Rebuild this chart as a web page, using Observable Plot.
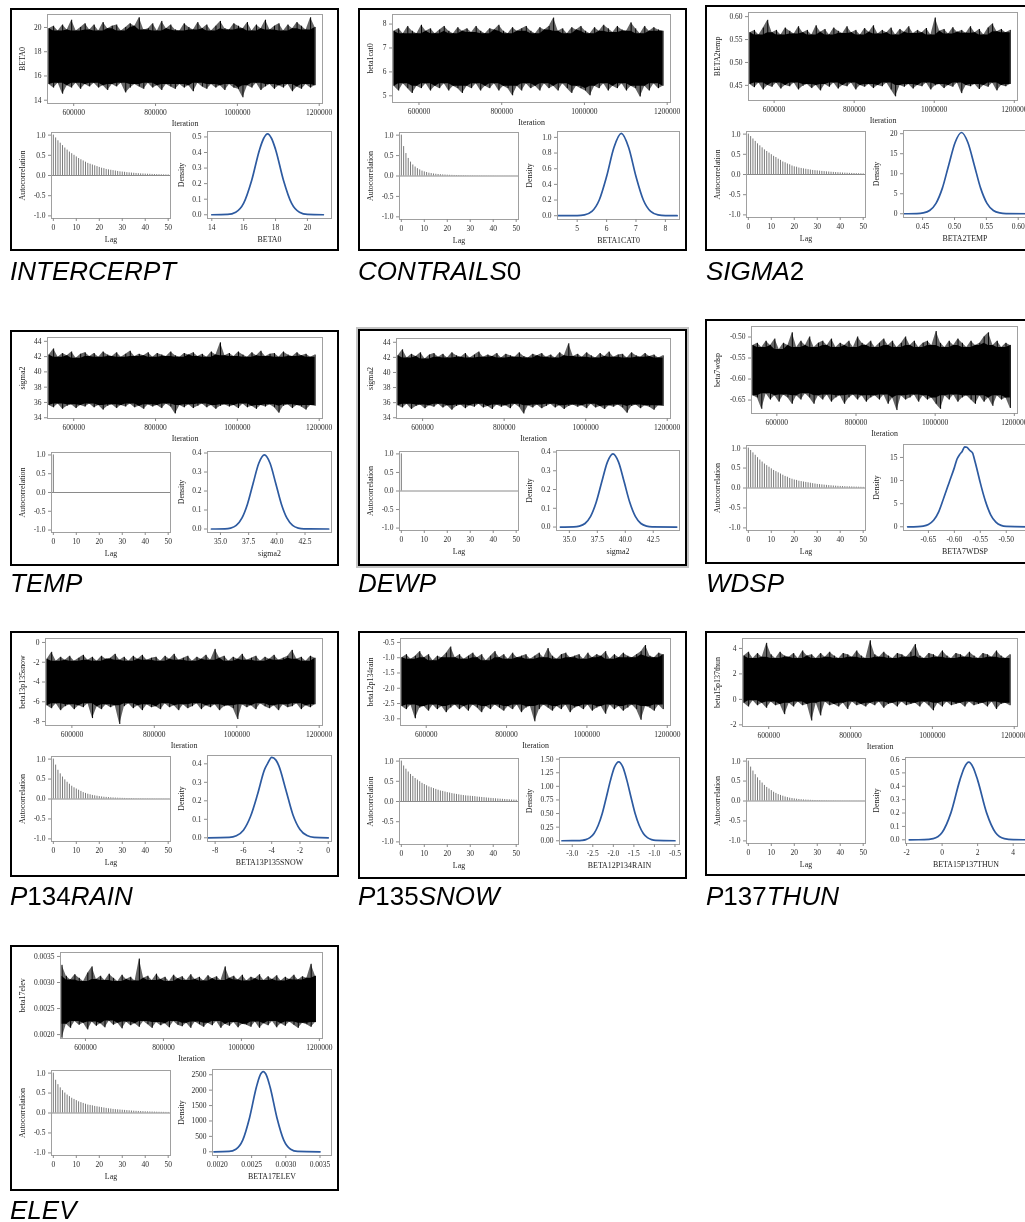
<!DOCTYPE html>
<html><head><meta charset="utf-8">
<script src="https://cdn.jsdelivr.net/npm/d3@7"></script>
<script src="https://cdn.jsdelivr.net/npm/@observablehq/plot@0.6"></script>
<style>
html,body{margin:0;padding:0;background:#fff;width:1025px;height:1222px;overflow:hidden;}
#root{position:relative;width:1025px;height:1222px;overflow:hidden;}
.panel{position:absolute;box-sizing:border-box;border:2px solid #000;background:#fff;}
.sub{position:absolute;will-change:transform;}
.sub svg{max-width:none;overflow:visible;display:block;}
#captions{position:absolute;left:0;top:0;will-change:transform;}
</style></head><body><div id="root"></div>
<script>
// ---------------- shared tick labels ----------------
const iterationTicks = [600000, 800000, 1000000, 1200000];
const lagTicks = [0, 10, 20, 30, 40, 50];
const acfTicks = [-1, -0.5, 0, 0.5, 1];
const captions = ["INTERCERPT", "CONTRAILS0", "SIGMA2", "TEMP", "DEWP", "WDSP", "P134RAIN", "P135SNOW", "P137THUN", "ELEV"];
const traceNames = ["BETA0", "beta1cat0", "BETA2temp", "sigma2", "sigma2", "beta7wdsp", "beta13p135snow", "beta12p134rain", "beta15p137thun", "beta17elev"];
const densityNames = ["BETA0", "BETA1CAT0", "BETA2TEMP", "sigma2", "sigma2", "BETA7WDSP", "BETA13P135SNOW", "BETA12P134RAIN", "BETA15P137THUN", "BETA17ELEV"];
const iterFirst = 540000, iterLast = 1190000;

// ---------------- BETA0 ----------------
const beta0TraceTop = [19.9,20.1,19.7,20.2,19.8,20.6,19.7,20.0,20.3,19.8, 20.2,19.7,20.4,19.9,20.1,20.2,19.7,20.0,20.3,20.1, 20.8,19.8,19.9,20.3,19.7,20.5,19.9,20.2,19.8,19.7, 20.3,20.0,19.8,20.4,19.9,20.2,19.7,20.1,20.5,19.9, 19.8,20.3,20.1,19.9,20.4,19.7,20.2,19.9,20.6,19.8, 20.1,20.3,19.7,20.2,19.9,20.4,20.1,19.8,20.8,20.0];
const beta0TraceBottom = [15.3,15.0,15.4,14.5,15.2,15.0,15.4,14.9,15.3,15.1, 15.4,15.0,15.2,14.8,15.3,15.1,15.4,14.6,15.0,15.3, 15.1,14.9,15.4,15.0,15.2,14.8,15.3,15.1,14.9,15.3, 15.0,15.2,14.7,15.4,15.1,14.9,15.3,15.0,15.2,14.8, 15.3,15.0,14.9,14.2,15.2,15.0,15.4,14.8,15.1,15.3, 14.9,15.2,15.0,15.3,14.7,15.1,14.9,15.3,15.0,15.2];
const beta0Acf = [1.00,0.93,0.86,0.80,0.74,0.68,0.63,0.58,0.54,0.50,0.46,0.42,0.39,0.36,0.33,0.30,0.28,0.26,0.24,0.22,0.20,0.18,0.17,0.15,0.14,0.13,0.12,0.11,0.10,0.09,0.085,0.08,0.07,0.065,0.06,0.055,0.05,0.045,0.04,0.038,0.035,0.032,0.03,0.027,0.025,0.022,0.02,0.018,0.016,0.015,0.014];
const beta0DensityX = [14,15,15.5,16,16.5,17,17.25,17.5,17.75,18,18.5,19,19.5,20,21];
const beta0DensityY = [0,0.002,0.016,0.074,0.22,0.42,0.49,0.52,0.49,0.42,0.22,0.074,0.016,0.002,0];
const beta0TraceTicks = [14,16,18,20];
const beta0DensXTicks = [14,16,18,20];
const beta0DensYTicks = [0,0.1,0.2,0.3,0.4,0.5];

// ---------------- beta1cat0 ----------------
const cat0TraceTop = [7.7,7.8,7.6,7.9,7.7,7.6,7.95,7.7,7.8,7.6, 7.75,7.9,7.7,7.6,7.85,7.7,7.8,7.65,7.9,7.7, 7.6,7.8,7.75,7.95,7.7,7.6,7.85,7.7,7.8,7.9, 7.7,7.6,7.85,7.75,7.9,8.25,7.7,7.8,7.6,7.85, 7.75,7.9,7.7,7.6,7.85,7.7,7.95,7.8,7.65,7.9, 7.75,7.7,8.05,7.8,7.6,7.9,7.7,7.85,7.75,7.7];
const cat0TraceBottom = [5.4,5.2,5.5,5.3,5.1,5.4,5.3,5.5,5.2,5.4, 5.3,5.5,5.2,5.4,5.3,5.1,5.4,5.3,5.5,5.2, 5.4,5.3,5.5,5.2,5.4,5.3,5.0,5.4,5.2,5.5, 5.3,5.4,5.2,5.5,5.3,5.4,5.2,5.5,5.3,5.1, 5.4,5.3,5.2,5.0,5.4,5.3,5.5,5.2,5.4,5.3, 5.5,5.2,5.4,5.3,4.95,5.4,5.2,5.5,5.3,5.4];
const cat0Acf = [1.00,0.72,0.55,0.43,0.34,0.27,0.22,0.18,0.15,0.12,0.10,0.085,0.07,0.06,0.05,0.043,0.037,0.032,0.027,0.023,0.02,0.017,0.015,0.013,0.011,0.01,0.009,0.008,0.007,0.006,0.005,0.005,0.004,0.004,0.003,0.003,0.003,0.002,0.002,0.002,0.002,0.001,0.001,0.001,0.001,0.001,0.001,0.001,0.001,0.001,0.001];
const cat0DensityX = [4.35,5.0,5.25,5.5,5.75,6.0,6.25,6.5,6.75,7.0,7.25,7.5,7.75,8.0,8.4];
const cat0DensityY = [0,0.001,0.01,0.054,0.20,0.50,0.87,1.05,0.87,0.50,0.20,0.054,0.01,0.001,0];
const cat0TraceTicks = [5,6,7,8];
const cat0DensXTicks = [5,6,7,8];
const cat0DensYTicks = [0,0.2,0.4,0.6,0.8,1.0];

// ---------------- BETA2temp ----------------
const tempTraceTop = [0.565,0.57,0.56,0.575,0.592,0.565,0.57,0.56,0.575,0.568, 0.562,0.578,0.565,0.57,0.56,0.58,0.566,0.572,0.56,0.575, 0.568,0.563,0.578,0.565,0.57,0.56,0.574,0.566,0.58,0.562, 0.57,0.565,0.575,0.56,0.572,0.566,0.578,0.563,0.57,0.565, 0.574,0.56,0.597,0.568,0.572,0.562,0.576,0.566,0.57,0.564, 0.578,0.565,0.572,0.56,0.575,0.584,0.567,0.572,0.565,0.57];
const tempTraceBottom = [0.452,0.445,0.455,0.44,0.45,0.446,0.455,0.442,0.45,0.447, 0.455,0.44,0.448,0.452,0.443,0.45,0.438,0.452,0.446,0.455, 0.442,0.45,0.447,0.455,0.44,0.45,0.446,0.452,0.443,0.45, 0.447,0.455,0.44,0.425,0.45,0.446,0.452,0.442,0.45,0.447, 0.455,0.44,0.449,0.452,0.443,0.45,0.446,0.455,0.432,0.45, 0.447,0.452,0.441,0.45,0.446,0.455,0.438,0.45,0.447,0.452];
const tempAcf = [1.00,0.94,0.88,0.82,0.76,0.71,0.66,0.61,0.57,0.53,0.49,0.45,0.42,0.38,0.35,0.31,0.29,0.26,0.24,0.21,0.19,0.18,0.16,0.15,0.14,0.13,0.12,0.11,0.10,0.095,0.09,0.083,0.077,0.071,0.066,0.061,0.056,0.052,0.048,0.044,0.04,0.037,0.034,0.031,0.028,0.026,0.024,0.021,0.019,0.017,0.015];
const tempDensityX = [0.421,0.441,0.451,0.461,0.471,0.481,0.491,0.501,0.511,0.521,0.531,0.541,0.551,0.561,0.571,0.581,0.62];
const tempDensityY = [0,0.04,0.2,0.81,2.6,6.4,12.2,17.8,20.3,17.8,12.2,6.4,2.6,0.81,0.2,0.04,0];
const tempTraceTicks = [0.45,0.5,0.55,0.6];
const tempDensXTicks = [0.45,0.5,0.55,0.6];
const tempDensYTicks = [0,5,10,15,20];

// ---------------- sigma2 ----------------
const sigmaTraceTop = [42.2,43.0,41.9,42.4,42.1,42.6,41.8,42.3,42.5,42.0, 42.4,41.9,42.6,42.2,42.0,42.5,41.9,42.3,42.7,42.0, 42.3,42.1,42.5,41.9,42.4,42.2,42.0,42.6,42.1,41.9, 42.4,42.2,42.5,42.0,42.3,41.9,42.6,42.2,43.8,42.1, 42.4,42.0,42.6,42.2,41.9,42.5,42.1,42.7,42.0,42.3, 42.4,41.9,42.6,42.2,42.0,42.5,42.1,42.3,41.9,42.2];
const sigmaTraceBottom = [35.6,35.3,35.8,35.1,35.5,35.7,35.2,35.6,35.4,35.8, 35.3,35.6,35.0,35.5,35.7,35.2,35.6,35.4,35.8,35.3, 35.5,35.1,35.7,35.4,35.6,35.2,35.8,35.4,34.5,35.6, 35.3,35.7,35.2,35.5,35.8,35.3,35.6,35.1,35.5,35.7, 35.4,35.6,35.2,35.8,35.3,35.5,35.1,35.6,35.4,35.7, 35.3,34.6,35.5,35.7,35.2,35.6,35.4,35.0,35.6,35.5];
const sigmaAcf = [1,0,0,0,0,0,0,0,0,0,0,0,0,0,0,0,0,0,0,0,0,0,0,0,0,0,0,0,0,0,0,0,0,0,0,0,0,0,0,0,0,0,0,0,0,0,0,0,0,0,0];
const sigmaDensityX = [34.2,35.4,35.9,36.4,36.9,37.4,37.9,38.4,38.9,39.4,39.9,40.4,40.9,41.4,41.9,42.4,44.6];
const sigmaDensityY = [0,0.001,0.005,0.019,0.057,0.132,0.241,0.346,0.39,0.346,0.241,0.132,0.057,0.019,0.005,0.001,0];
const sigmaTraceTicks = [34,36,38,40,42,44];
const sigmaDensXTicks = [35,37.5,40,42.5];
const sigmaDensYTicks = [0,0.1,0.2,0.3,0.4];

// ---------------- beta7wdsp ----------------
const wdspTraceTop = [-0.52,-0.515,-0.525,-0.51,-0.52,-0.505,-0.53,-0.515,-0.52,-0.49, -0.525,-0.51,-0.52,-0.5,-0.525,-0.515,-0.51,-0.52,-0.505,-0.525, -0.515,-0.52,-0.51,-0.525,-0.5,-0.515,-0.52,-0.51,-0.525,-0.515, -0.505,-0.52,-0.51,-0.525,-0.515,-0.5,-0.52,-0.51,-0.525,-0.515, -0.51,-0.52,-0.487,-0.515,-0.525,-0.51,-0.52,-0.505,-0.515,-0.525, -0.51,-0.52,-0.515,-0.5,-0.49,-0.52,-0.51,-0.525,-0.515,-0.52];
const wdspTraceBottom = [-0.64,-0.645,-0.672,-0.635,-0.65,-0.64,-0.655,-0.638,-0.645,-0.66, -0.64,-0.65,-0.635,-0.645,-0.66,-0.64,-0.65,-0.638,-0.655,-0.645, -0.64,-0.66,-0.645,-0.638,-0.65,-0.64,-0.655,-0.645,-0.64,-0.65, -0.638,-0.66,-0.645,-0.675,-0.64,-0.65,-0.645,-0.638,-0.655,-0.64, -0.65,-0.645,-0.66,-0.672,-0.64,-0.65,-0.638,-0.655,-0.645,-0.64, -0.65,-0.66,-0.64,-0.655,-0.645,-0.665,-0.64,-0.65,-0.645,-0.67];
const wdspAcf = [1.00,0.94,0.88,0.82,0.76,0.70,0.65,0.60,0.56,0.52,0.48,0.44,0.41,0.38,0.35,0.32,0.29,0.27,0.24,0.22,0.20,0.19,0.17,0.16,0.15,0.14,0.13,0.12,0.11,0.10,0.09,0.085,0.078,0.072,0.066,0.06,0.055,0.05,0.046,0.042,0.039,0.036,0.033,0.03,0.028,0.026,0.024,0.022,0.02,0.018,0.016];
const wdspDensityX = [-0.69,-0.67,-0.66,-0.65,-0.64,-0.63,-0.62,-0.61,-0.60,-0.595,-0.59,-0.585,-0.58,-0.576,-0.57,-0.565,-0.56,-0.555,-0.55,-0.54,-0.53,-0.52,-0.51,-0.50,-0.46];
const wdspDensityY = [0,0.05,0.15,0.5,1.4,3.3,6.4,9.6,12.8,14.6,15.6,16.3,17.3,17.2,16.5,16.0,14.0,11.8,9.5,5.5,2.6,1.0,0.3,0.08,0];
const wdspTraceTicks = [-0.65,-0.6,-0.55,-0.5];
const wdspDensXTicks = [-0.65,-0.6,-0.55,-0.5];
const wdspDensYTicks = [0,5,10,15];

// ---------------- beta13p135snow ----------------
const snowTraceTop = [-1.7,-1.0,-1.9,-1.5,-1.8,-1.4,-1.9,-1.6,-1.3,-1.8, -1.5,-1.9,-1.4,-1.7,-1.6,-1.2,-1.8,-1.5,-1.9,-1.4, -1.7,-1.3,-1.8,-1.6,-1.5,-1.9,-1.4,-1.7,-1.2,-1.8, -1.6,-1.4,-1.9,-1.5,-1.7,-1.3,-1.8,-0.7,-1.6,-1.4, -1.9,-1.5,-1.7,-1.2,-1.8,-1.6,-1.4,-1.9,-1.5,-1.7, -1.3,-1.8,-1.6,-1.4,-0.8,-1.7,-1.5,-1.9,-1.4,-1.6];
const snowTraceBottom = [-6.4,-6.7,-6.2,-6.9,-6.5,-6.3,-6.8,-6.4,-6.6,-6.2, -7.7,-6.5,-6.8,-6.3,-6.6,-6.4,-8.3,-6.5,-6.2,-6.7, -6.4,-6.9,-6.3,-6.6,-6.5,-6.8,-6.2,-6.6,-6.4,-6.9, -6.3,-6.7,-6.5,-6.2,-6.8,-6.4,-6.6,-6.3,-6.9,-6.5, -6.4,-6.7,-7.8,-6.3,-6.6,-6.4,-6.8,-6.2,-6.5,-6.7, -6.4,-6.9,-6.3,-6.6,-6.5,-6.2,-6.8,-6.4,-6.6,-6.3];
const snowAcf = [1.00,0.85,0.72,0.63,0.55,0.48,0.42,0.37,0.32,0.28,0.25,0.22,0.19,0.16,0.14,0.12,0.105,0.09,0.08,0.07,0.06,0.052,0.045,0.04,0.035,0.03,0.026,0.023,0.02,0.018,0.016,0.014,0.012,0.011,0.01,0.009,0.008,0.007,0.006,0.006,0.005,0.005,0.004,0.004,0.003,0.003,0.003,0.002,0.002,0.002,0.002];
const snowDensityX = [-8.5,-7,-6.5,-6,-5.5,-5,-4.5,-4.3,-4.0,-3.7,-3.5,-3,-2.5,-2,-1.5,-1,0];
const snowDensityY = [0,0.002,0.011,0.041,0.115,0.235,0.37,0.40,0.435,0.42,0.39,0.26,0.125,0.045,0.012,0.002,0];
const snowTraceTicks = [-8,-6,-4,-2,0];
const snowDensXTicks = [-8,-6,-4,-2,0];
const snowDensYTicks = [0,0.1,0.2,0.3,0.4];

// ---------------- beta12p134rain ----------------
const rainTraceTop = [-1.0,-0.9,-1.05,-0.95,-0.8,-1.0,-0.9,-1.1,-0.95,-1.0, -0.85,-0.65,-1.0,-0.9,-1.05,-0.95,-0.85,-1.0,-0.9,-1.1, -0.95,-0.8,-1.0,-0.9,-1.05,-0.85,-1.0,-0.95,-0.9,-1.05, -0.95,-0.85,-1.0,-0.7,-0.95,-1.05,-0.9,-0.85,-1.0,-0.95, -0.9,-1.05,-0.85,-1.0,-0.9,-0.95,-0.8,-1.05,-0.9,-1.0, -0.85,-0.95,-1.0,-0.9,-0.8,-0.6,-0.95,-1.0,-0.85,-0.9];
const rainTraceBottom = [-2.6,-2.7,-2.55,-3.0,-2.65,-2.6,-2.75,-2.55,-2.7,-2.6, -2.8,-2.65,-2.55,-2.7,-2.6,-2.75,-2.55,-2.65,-2.8,-2.6, -2.7,-2.55,-2.65,-2.75,-2.6,-2.7,-2.55,-2.8,-2.65,-2.6, -3.1,-2.7,-2.55,-2.65,-2.75,-2.6,-2.7,-2.55,-2.8,-2.65, -2.6,-2.7,-2.55,-2.75,-2.65,-2.6,-2.85,-2.55,-2.7,-2.6, -2.75,-2.65,-2.55,-2.7,-3.05,-2.6,-2.65,-2.75,-2.55,-2.7];
const rainAcf = [1.00,0.88,0.80,0.73,0.67,0.62,0.57,0.53,0.49,0.45,0.42,0.39,0.36,0.34,0.32,0.30,0.28,0.26,0.25,0.235,0.22,0.21,0.195,0.185,0.175,0.165,0.155,0.148,0.14,0.135,0.13,0.125,0.12,0.11,0.105,0.1,0.094,0.088,0.082,0.077,0.072,0.067,0.062,0.058,0.054,0.05,0.046,0.042,0.038,0.035,0.032];
const rainDensityX = [-3.25,-2.87,-2.77,-2.67,-2.57,-2.47,-2.37,-2.27,-2.17,-2.07,-1.97,-1.87,-1.77,-1.67,-1.57,-1.47,-1.37,-1.27,-1.17,-1.07,-0.97,-0.5];
const rainDensityY = [0,0.002,0.007,0.021,0.057,0.134,0.28,0.50,0.80,1.11,1.357,1.45,1.357,1.11,0.80,0.50,0.28,0.134,0.057,0.021,0.007,0];
const rainTraceTicks = [-3,-2.5,-2,-1.5,-1,-0.5];
const rainDensXTicks = [-3,-2.5,-2,-1.5,-1,-0.5];
const rainDensYTicks = [0,0.25,0.5,0.75,1,1.25,1.5];

// ---------------- beta15p137thun ----------------
const thunTraceTop = [3.4,3.7,3.2,3.6,3.3,4.4,3.5,3.2,3.7,3.4, 3.3,3.6,3.2,3.8,3.4,3.5,3.2,3.6,3.3,3.7, 3.4,3.2,3.6,3.5,3.3,3.8,3.4,3.2,4.6,3.5, 3.3,3.7,3.4,3.2,3.6,3.5,3.3,3.7,4.3,3.4, 3.2,3.6,3.5,3.3,3.8,3.4,3.2,3.6,3.5,3.3, 3.7,3.4,3.2,3.6,3.5,3.3,3.8,3.4,3.2,3.5];
const thunTraceBottom = [-0.3,-0.6,-0.1,-0.5,-0.3,-0.7,-0.2,-0.5,-0.4,-1.2, -0.3,-0.6,-0.2,-0.5,-0.4,-1.7,-0.3,-1.3,-0.2,-0.5, -0.4,-0.6,-0.3,-0.8,-0.2,-0.5,-0.4,-0.6,-0.3,-0.5, -0.2,-0.7,-0.4,-0.3,-0.6,-0.2,-0.5,-0.4,-0.3,-0.6, -0.2,-0.5,-0.9,-0.3,-0.6,-0.2,-0.5,-0.4,-0.3,-0.6, -0.2,-0.5,-0.4,-0.3,-0.6,-0.2,-0.8,-0.4,-0.3,-0.5];
const thunAcf = [1.00,0.85,0.75,0.66,0.58,0.51,0.45,0.39,0.34,0.30,0.26,0.22,0.19,0.16,0.14,0.12,0.10,0.085,0.072,0.062,0.053,0.045,0.038,0.032,0.027,0.023,0.02,0.017,0.014,0.012,0.01,0.009,0.008,0.007,0.006,0.005,0.004,0.004,0.003,0.003,0.003,0.002,0.002,0.002,0.002,0.001,0.001,0.001,0.001,0.001,0.001];
const thunDensityX = [-1.85,-1,-0.5,0,0.5,1,1.25,1.5,1.75,2,2.5,3,3.5,4,5];
const thunDensityY = [0,0.001,0.009,0.055,0.203,0.446,0.54,0.58,0.54,0.446,0.203,0.055,0.009,0.001,0];
const thunTraceTicks = [-2,0,2,4];
const thunDensXTicks = [-2,0,2,4];
const thunDensYTicks = [0,0.1,0.2,0.3,0.4,0.5,0.6];

// ---------------- beta17elev ----------------
const elevTraceTop = [0.00333,0.00312,0.00305,0.00315,0.00308,0.00302,0.00318,0.0033,0.00306,0.00312, 0.00304,0.00316,0.00308,0.00302,0.00314,0.00306,0.0031,0.00303,0.00345,0.00308, 0.00312,0.00304,0.00316,0.00306,0.0031,0.00302,0.00314,0.00307,0.00311,0.00304, 0.00315,0.00306,0.0031,0.00303,0.00313,0.00307,0.00311,0.00304,0.0033,0.00308, 0.00312,0.00305,0.00314,0.00303,0.0031,0.00307,0.00315,0.00304,0.00311,0.00306, 0.00313,0.00303,0.0031,0.00306,0.00314,0.00305,0.00311,0.00308,0.00335,0.00312];
const elevTraceBottom = [0.00193,0.0022,0.00212,0.00225,0.00218,0.00222,0.00209,0.00224,0.00216,0.00221, 0.00213,0.00226,0.00218,0.00222,0.00211,0.00224,0.00217,0.00221,0.00214,0.00225, 0.00219,0.00212,0.00223,0.00217,0.00221,0.00213,0.00225,0.00218,0.00215,0.00222, 0.00212,0.00224,0.00219,0.00214,0.00222,0.00217,0.00225,0.00212,0.0022,0.00216, 0.00223,0.00213,0.0022,0.00218,0.00214,0.00224,0.00212,0.00221,0.00217,0.00225, 0.00213,0.00221,0.00216,0.00224,0.00218,0.00212,0.00222,0.00219,0.00214,0.00223];
const elevAcf = [1.00,0.82,0.71,0.63,0.56,0.50,0.45,0.41,0.37,0.34,0.31,0.28,0.26,0.24,0.22,0.20,0.19,0.18,0.165,0.155,0.145,0.135,0.125,0.115,0.105,0.1,0.09,0.085,0.08,0.075,0.07,0.065,0.06,0.055,0.05,0.046,0.042,0.039,0.036,0.033,0.03,0.028,0.026,0.024,0.022,0.02,0.018,0.017,0.016,0.015,0.014];
const elevDensityX = [0.00195,0.00217,0.00227,0.00237,0.00247,0.00257,0.00262,0.00267,0.00272,0.00277,0.00287,0.00297,0.00307,0.00317,0.0035];
const elevDensityY = [0,12,85,380,1107,2100,2466,2600,2466,2100,1107,380,85,12,0];
const elevTraceTicks = [0.002,0.0025,0.003,0.0035];
const elevDensXTicks = [0.002,0.0025,0.003,0.0035];
const elevDensYTicks = [0,500,1000,1500,2000,2500];

// ---------------- formatting / layout ----------------
const fx = k => d => d.toFixed(k);
const panels = [
  {top:beta0TraceTop, bot:beta0TraceBottom, acf:beta0Acf, dX:beta0DensityX, dY:beta0DensityY, tTicks:beta0TraceTicks, tFmt:fx(0), tDom:[13.73,21.07], dxTicks:beta0DensXTicks, dxFmt:fx(0), dxDom:[13.73,21.51], dyTicks:beta0DensYTicks, dyFmt:fx(1), dyMax:0.535, box:[10,8,329,243], tt:6, tb:95, at:124, ab:210, mL:37, dL:197},
  {top:cat0TraceTop, bot:cat0TraceBottom, acf:cat0Acf, dX:cat0DensityX, dY:cat0DensityY, tTicks:cat0TraceTicks, tFmt:fx(0), tDom:[4.72,8.4], dxTicks:cat0DensXTicks, dxFmt:fx(0), dxDom:[4.33,8.48], dyTicks:cat0DensYTicks, dyFmt:fx(1), dyMax:1.075, box:[358,8,329,243], tt:6, tb:94, at:124, ab:211, mL:34, dL:199},
  {top:tempTraceTop, bot:tempTraceBottom, acf:tempAcf, dX:tempDensityX, dY:tempDensityY, tTicks:tempTraceTicks, tFmt:fx(2), tDom:[0.417,0.609], dxTicks:tempDensXTicks, dxFmt:fx(2), dxDom:[0.42,0.613], dyTicks:tempDensYTicks, dyFmt:fx(0), dyMax:20.8, box:[705,5,331,246], tt:7, tb:95, at:126, ab:212, mL:43, dL:198},
  {top:sigmaTraceTop, bot:sigmaTraceBottom, acf:sigmaAcf, dX:sigmaDensityX, dY:sigmaDensityY, tTicks:sigmaTraceTicks, tFmt:fx(0), tDom:[33.9,44.5], dxTicks:sigmaDensXTicks, dxFmt:fx(1), dxDom:[33.85,44.85], dyTicks:sigmaDensYTicks, dyFmt:fx(1), dyMax:0.408, box:[10,330,329,236], tt:7, tb:88, at:122, ab:202, mL:37, dL:197},
  {top:sigmaTraceTop, bot:sigmaTraceBottom, acf:sigmaAcf, dX:sigmaDensityX, dY:sigmaDensityY, tTicks:sigmaTraceTicks, tFmt:fx(0), tDom:[33.9,44.5], dxTicks:sigmaDensXTicks, dxFmt:fx(1), dxDom:[33.85,44.85], dyTicks:sigmaDensYTicks, dyFmt:fx(1), dyMax:0.408, box:[358,329,329,237], tt:9, tb:89, at:122, ab:201, mL:38, dL:198, blurred:true},
  {top:wdspTraceTop, bot:wdspTraceBottom, acf:wdspAcf, dX:wdspDensityX, dY:wdspDensityY, tTicks:wdspTraceTicks, tFmt:fx(2), tDom:[-0.682,-0.475], dxTicks:wdspDensXTicks, dxFmt:fx(2), dxDom:[-0.698,-0.461], dyTicks:wdspDensYTicks, dyFmt:fx(0), dyMax:17.8, box:[705,319,331,245], tt:7, tb:94, at:126, ab:211, mL:46, dL:198},
  {top:snowTraceTop, bot:snowTraceBottom, acf:snowAcf, dX:snowDensityX, dY:snowDensityY, tTicks:snowTraceTicks, tFmt:fx(0), tDom:[-8.4,0.4], dxTicks:snowDensXTicks, dxFmt:fx(0), dxDom:[-8.54,0.23], dyTicks:snowDensYTicks, dyFmt:fx(1), dyMax:0.445, box:[10,631,329,246], tt:7, tb:94, at:125, ab:210, mL:35, dL:197},
  {top:rainTraceTop, bot:rainTraceBottom, acf:rainAcf, dX:rainDensityX, dY:rainDensityY, tTicks:rainTraceTicks, tFmt:fx(1), tDom:[-3.22,-0.37], dxTicks:rainDensXTicks, dxFmt:fx(1), dxDom:[-3.31,-0.39], dyTicks:rainDensYTicks, dyFmt:fx(2), dyMax:1.53, box:[358,631,329,248], tt:7, tb:94, at:127, ab:213, mL:42, dL:201},
  {top:thunTraceTop, bot:thunTraceBottom, acf:thunAcf, dX:thunDensityX, dY:thunDensityY, tTicks:thunTraceTicks, tFmt:fx(0), tDom:[-2.13,4.78], dxTicks:thunDensXTicks, dxFmt:fx(0), dxDom:[-2.06,4.75], dyTicks:thunDensYTicks, dyFmt:fx(1), dyMax:0.615, box:[705,631,331,245], tt:7, tb:95, at:127, ab:212, mL:37, dL:200},
  {top:elevTraceTop, bot:elevTraceBottom, acf:elevAcf, dX:elevDensityX, dY:elevDensityY, tTicks:elevTraceTicks, tFmt:fx(4), tDom:[0.001925,0.003576], dxTicks:elevDensXTicks, dxFmt:fx(4), dxDom:[0.001928,0.003668], dyTicks:elevDensYTicks, dyFmt:fx(0), dyMax:2670, box:[10,945,329,246], tt:7, tb:93, at:125, ab:210, mL:50, dL:202}
];
const captionCols = [10, 358, 706];
const captionBaselines = [280, 592, 905, 1219];

const FRAME_R = 312, ACF_L = 41, ACF_R = 160, DENS_R = 321;
const baseStyle = {background:"transparent", fontFamily:"'Liberation Serif','Times New Roman',serif", fontSize:"7.5px", color:"#222", overflow:"visible", maxWidth:"none"};
const axisStyle = {tickSize:3, tickPadding:3, stroke:"#8c8c8c", fill:"#2a2a2a", label:null};
const frameStyle = {stroke:"#a0a0a0"};
const labelSize = 7.9;
const labelStyle = {text: d => d, fontSize: labelSize, fill: "#222"};

const root = document.getElementById("root");

function place(parent, svg, left, top) {
  const d = document.createElement("div");
  d.className = "sub";
  d.style.left = left + "px";
  d.style.top = top + "px";
  d.appendChild(svg);
  parent.appendChild(d);
}

panels.forEach((p, k) => {
  const [bx, by, bw, bh] = p.box;
  const div = document.createElement("div");
  div.className = "panel";
  Object.assign(div.style, {left: bx + "px", top: by + "px", width: bw + "px", height: bh + "px"});
  if (p.blurred) {
    div.style.boxShadow = "0 0 0 2px #c4c4c4";
    div.style.filter = "blur(0.45px)";
  }
  root.appendChild(div);
  const off = -2;

  // ---- trace: envelope of the sampled chain ----
  const n = Math.min(p.top.length, p.bot.length);
  const traceRows = d3.range(n).map(i => {
    const a = Math.max(0, i - 1), b = Math.min(n - 1, i + 1);
    return {
      iter: iterFirst + i * (iterLast - iterFirst) / (n - 1),
      hi: p.top[i], lo: p.bot[i],
      coreHi: d3.min(p.top.slice(a, b + 1)), coreLo: d3.max(p.bot.slice(a, b + 1))
    };
  });
  const tW = 345;
  const trace = Plot.plot({
    width: tW, height: p.tb + 34,
    marginTop: p.tt, marginBottom: 34, marginLeft: p.mL, marginRight: tW - FRAME_R,
    x: {domain: [536000, 1208000]}, y: {domain: p.tDom},
    style: baseStyle,
    marks: [
      Plot.areaY(traceRows, {x: "iter", y1: "lo", y2: "hi", fill: "#000", fillOpacity: 0.6, curve: "linear"}),
      Plot.areaY(traceRows, {x: "iter", y1: "coreLo", y2: "coreHi", fill: "#000", curve: "linear"}),
      Plot.ruleX(traceRows, {x: "iter", y1: "lo", y2: "hi", stroke: "#000", strokeWidth: 1}),
      Plot.frame(frameStyle),
      Plot.axisX(iterationTicks, {...axisStyle, tickFormat: d => String(d)}),
      Plot.axisY(p.tTicks, {...axisStyle, tickFormat: p.tFmt}),
      Plot.text(["Iteration"], {...labelStyle, frameAnchor: "bottom", dy: 22}),
      Plot.text([traceNames[k]], {...labelStyle, frameAnchor: "left", textAnchor: "middle", rotate: -90, dx: -(p.mL - 11.5)})
    ]
  });
  place(div, trace, off, off);

  // ---- autocorrelation ----
  const acfRows = p.acf.map((r, lag) => ({lag, r}));
  const aW = 175;
  const acfPlot = Plot.plot({
    width: aW, height: (p.ab - p.at) + 6 + 34,
    marginTop: 6, marginBottom: 34, marginLeft: ACF_L, marginRight: aW - ACF_R,
    x: {domain: [-0.8, 51]}, y: {domain: [-1.065, 1.065]},
    style: baseStyle,
    marks: [
      Plot.ruleY([0], {stroke: "#8a8a8a"}),
      Plot.ruleX(acfRows, {x: "lag", y1: 0, y2: "r", stroke: "#7a7a7a", strokeWidth: 1}),
      Plot.frame(frameStyle),
      Plot.axisX(lagTicks, {...axisStyle, tickFormat: fx(0)}),
      Plot.axisY(acfTicks, {...axisStyle, tickFormat: fx(1)}),
      Plot.text(["Lag"], {...labelStyle, frameAnchor: "bottom", dy: 23}),
      Plot.text(["Autocorrelation"], {...labelStyle, frameAnchor: "left", textAnchor: "middle", rotate: -90, dx: -(ACF_L - 11.5)})
    ]
  });
  place(div, acfPlot, off, p.at - 6 + off);

  // ---- density ----
  const densRows = p.dX.map((x, i) => ({x, y: p.dY[i]}));
  const dLeft = 150, dW = 190;
  const densPlot = Plot.plot({
    width: dW, height: (p.ab - p.at) + 7 + 34,
    marginTop: 6, marginBottom: 34, marginLeft: p.dL - dLeft, marginRight: dW - (DENS_R - dLeft),
    x: {domain: p.dxDom}, y: {domain: [-0.045 * p.dyMax, p.dyMax]},
    style: baseStyle,
    marks: [
      Plot.line(densRows, {x: "x", y: "y", stroke: "#2d5aa0", strokeWidth: 1.7, curve: "monotone-x"}),
      Plot.frame(frameStyle),
      Plot.axisX(p.dxTicks, {...axisStyle, tickFormat: p.dxFmt}),
      Plot.axisY(p.dyTicks, {...axisStyle, tickFormat: p.dyFmt}),
      Plot.text([densityNames[k]], {...labelStyle, frameAnchor: "bottom", dy: 23}),
      Plot.text(["Density"], {...labelStyle, frameAnchor: "left", textAnchor: "middle", rotate: -90, dx: -(p.dL - 171)})
    ]
  });
  place(div, densPlot, dLeft + off, p.at - 7 + off);
});

// ---- captions ----
const capSvg = d3.select(root).append("svg").attr("id", "captions").attr("width", 1025).attr("height", 1222);
captions.forEach((c, k) => {
  const t = capSvg.append("text")
    .attr("x", captionCols[k % 3]).attr("y", captionBaselines[Math.floor(k / 3)])
    .attr("font-family", "'Liberation Sans', Arial, sans-serif").attr("font-size", 26).attr("fill", "#000");
  c.split(/(\d+)/).filter(s => s.length).forEach(s => {
    t.append("tspan").attr("font-style", /^\d+$/.test(s) ? "normal" : "italic").text(s);
  });
});
</script></body></html>
